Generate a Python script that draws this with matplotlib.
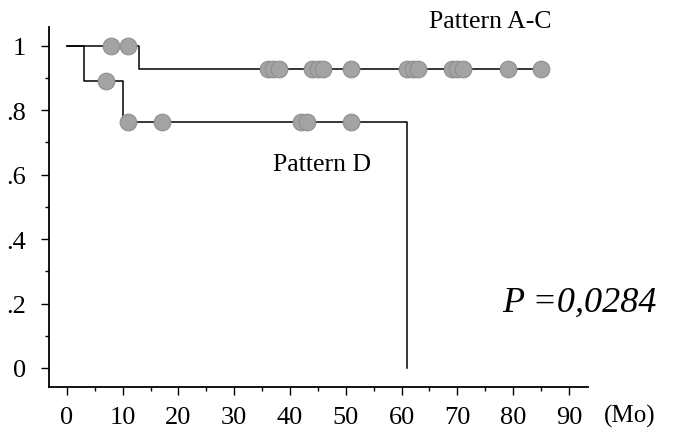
import matplotlib
matplotlib.use("Agg")
import matplotlib.pyplot as plt
from matplotlib.ticker import MultipleLocator, FixedLocator

# Kaplan-Meier step data
ac_times = [0, 13, 85]
ac_surv = [1.0, 0.929, 0.929]
ac_cens_t = [8, 11, 36, 37, 38, 44, 45, 46, 51, 61, 62, 63, 69, 70, 71, 79, 85]
ac_cens_s = [1.0, 1.0] + [0.929] * 15

d_times = [0, 3, 10, 61]
d_surv = [1.0, 0.889, 0.762, 0.0]
d_cens_t = [7, 11, 17, 42, 43, 51]
d_cens_s = [0.889, 0.762, 0.762, 0.762, 0.762, 0.762]

x_ticks = [0, 10, 20, 30, 40, 50, 60, 70, 80, 90]
y_ticks = [0, 0.2, 0.4, 0.6, 0.8, 1.0]
y_labels = ["0", ".2", ".4", ".6", ".8", "1"]

plt.rcParams['font.family'] = ['Liberation Serif', 'DejaVu Serif']

fig = plt.figure(figsize=(6.75, 4.31), dpi=100)
ax = fig.add_axes([0.0726, 0.0998, 0.871 - 0.0726, 0.935 - 0.0998])

ax.step(ac_times, ac_surv, where='post', color='black', lw=1.1, zorder=2)
ax.step(d_times, d_surv, where='post', color='black', lw=1.1, zorder=2)
mk = dict(marker='o', linestyle='none', markersize=12, markerfacecolor='#a3a3a3',
          markeredgecolor='#8f8f8f', markeredgewidth=0.8, zorder=3)
ax.plot(ac_cens_t, ac_cens_s, **mk)
ax.plot(d_cens_t, d_cens_s, **mk)

ax.set_xlim(-3.2, 93.4)
ax.set_ylim(-0.059, 1.058)
for s in ['top', 'right']:
    ax.spines[s].set_visible(False)
for s in ['left', 'bottom']:
    ax.spines[s].set_linewidth(1.3)

ax.xaxis.set_major_locator(FixedLocator(x_ticks))
ax.xaxis.set_minor_locator(MultipleLocator(5))
ax.yaxis.set_major_locator(FixedLocator(y_ticks))
ax.yaxis.set_minor_locator(MultipleLocator(0.1))
ax.set_yticklabels(y_labels)
ax.tick_params(axis='both', which='major', length=5.5, width=1, labelsize=19, direction='out')
ax.tick_params(axis='both', which='minor', length=3, width=1, direction='out')
ax.tick_params(axis='x', pad=8)
ax.tick_params(axis='y', pad=11)

fig.text(630 / 675, 1 - 416 / 431, "(Mo)", fontsize=18, ha='center', va='center')

ax.text(65, 1.077, "Pattern A-C", fontsize=18.5, ha='left', va='center')
ax.text(36.9, 0.633, "Pattern D", fontsize=18.5, ha='left', va='center')
ax.text(91.9, 0.205, "P =0,0284", fontsize=26, style='italic', ha='center', va='center')

fig.savefig("out.png", dpi=100)
